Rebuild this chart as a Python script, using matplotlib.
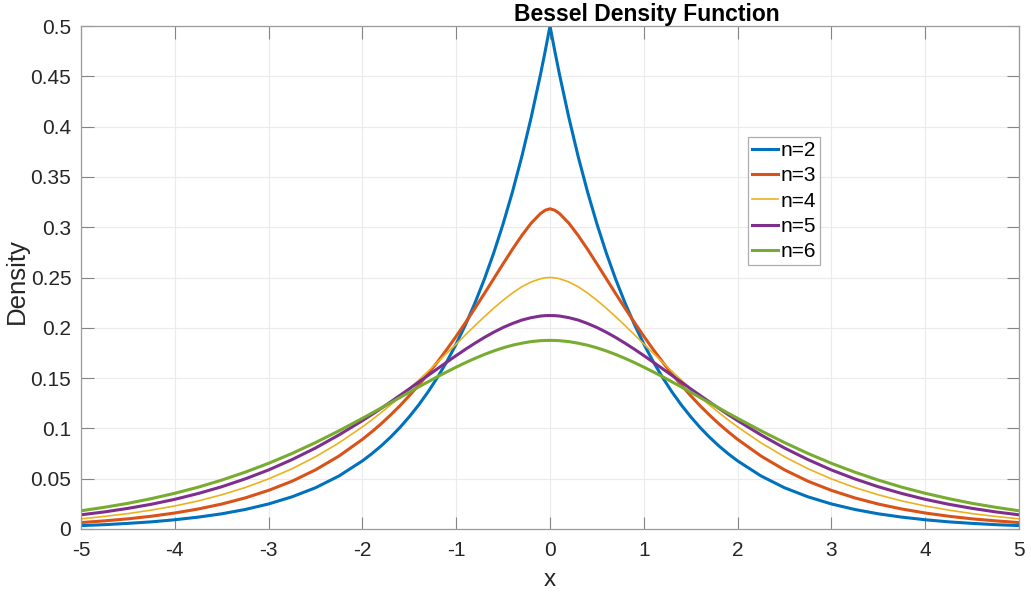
import matplotlib.pyplot as plt
import numpy as np

plt.rcParams['font.family'] = ['Liberation Sans', 'DejaVu Sans']

# sample points (right half, x >= 0); curves are even so the left half reuses them
x_half = [0, 0.05, 0.1, 0.2, 0.3, 0.4, 0.5, 0.6, 0.7, 0.8, 0.9, 1.0,
          1.1, 1.2, 1.3, 1.4, 1.5, 1.6, 1.7, 1.8, 1.9, 2.0,
          2.25, 2.5, 2.75, 3, 3.25, 3.5, 3.75, 4, 4.25, 4.5, 4.75, 5]

dens_n2 = [0.5, 0.4756, 0.4524, 0.4094, 0.3704, 0.3352, 0.3033, 0.2744, 0.2483,
           0.2247, 0.2033, 0.1839, 0.1664, 0.1506, 0.1363, 0.1233, 0.1116,
           0.1009, 0.0913, 0.0826, 0.0748, 0.0677,
           0.0527, 0.0410, 0.0320, 0.0249, 0.0194, 0.0151, 0.0118,
           0.0092, 0.0071, 0.0056, 0.0043, 0.0034]
dens_n3 = [0.3183, 0.3169, 0.3137, 0.3041, 0.2918, 0.2781, 0.2636, 0.2488, 0.2340,
           0.2195, 0.2053, 0.1916, 0.1785, 0.1660, 0.1541, 0.1430, 0.1325,
           0.1225, 0.1133, 0.1046, 0.0966, 0.0891,
           0.0725, 0.0588, 0.0475, 0.0384, 0.0309, 0.0248, 0.0199,
           0.0159, 0.0127, 0.0101, 0.0081, 0.0064]
dens_n4 = [0.25, 0.2497, 0.2488, 0.2456, 0.2408, 0.2346, 0.2274, 0.2195, 0.2110,
           0.2022, 0.1931, 0.1839, 0.1748, 0.1657, 0.1567, 0.1480, 0.1395,
           0.1312, 0.1233, 0.1157, 0.1084, 0.1015,
           0.0856, 0.0718, 0.0599, 0.0498, 0.0412, 0.0340, 0.0279,
           0.0229, 0.0188, 0.0153, 0.0125, 0.0101]
dens_n5 = [0.2122, 0.2121, 0.2117, 0.2101, 0.2077, 0.2043, 0.2003, 0.1956, 0.1904,
           0.1847, 0.1787, 0.1724, 0.1659, 0.1593, 0.1527, 0.1460, 0.1393,
           0.1328, 0.1263, 0.1199, 0.1137, 0.1077,
           0.0935, 0.0805, 0.0690, 0.0587, 0.0498, 0.0420, 0.0353,
           0.0295, 0.0246, 0.0205, 0.0170, 0.0141]
dens_n6 = [0.1875, 0.1874, 0.1872, 0.1863, 0.1847, 0.1827, 0.1801, 0.1770, 0.1735,
           0.1696, 0.1654, 0.1609, 0.1562, 0.1514, 0.1463, 0.1412, 0.1360,
           0.1307, 0.1255, 0.1203, 0.1151, 0.1100,
           0.0976, 0.0859, 0.0751, 0.0653, 0.0565, 0.0486, 0.0416,
           0.0355, 0.0302, 0.0255, 0.0216, 0.0181]

labels = ['n=2', 'n=3', 'n=4', 'n=5', 'n=6']
colors = ['#0072BD', '#D95319', '#EDB120', '#7E2F8E', '#77AC30']
widths = [2.2, 2.2, 1.2, 2.2, 2.2]


def full_curve(vals):
    xs = np.array(x_half)
    ys = np.array(vals)
    return np.concatenate([-xs[:0:-1], xs]), np.concatenate([ys[:0:-1], ys])


fig = plt.figure(figsize=(10.31, 5.94), dpi=100)
ax = fig.add_axes([81 / 1031, 1 - 529 / 594, 938 / 1031, 503 / 594])

for vals, lab, c, lw in zip([dens_n2, dens_n3, dens_n4, dens_n5, dens_n6],
                            labels, colors, widths):
    xx, yy = full_curve(vals)
    ax.plot(xx, yy, color=c, lw=lw, label=lab, solid_joinstyle='round')

ax.set_xlim(-5, 5)
ax.set_ylim(0, 0.5)
ax.set_xticks(np.arange(-5, 6, 1))
ax.set_yticks(np.arange(0, 0.51, 0.05))
ax.set_xticklabels([str(v) for v in range(-5, 6)])
ax.set_yticklabels(['0', '0.05', '0.1', '0.15', '0.2', '0.25', '0.3', '0.35',
                    '0.4', '0.45', '0.5'])
ax.grid(True, color='#ebebeb', lw=0.8)
ax.set_axisbelow(True)
ax.tick_params(direction='in', length=9, width=0.8, color='#858585',
               labelsize=15, labelcolor='#262626', top=True, right=True)
ax.tick_params(axis='x', pad=9)
ax.tick_params(axis='y', pad=7)
for s in ax.spines.values():
    s.set_color('#9a9a9a')
    s.set_linewidth(0.9)

ax.set_xlabel('x', fontsize=17.5, color='#262626')
ax.set_ylabel('Density', fontsize=18.5, color='#262626')
ax.xaxis.set_label_coords(0.5, -0.08)
ax.yaxis.set_label_coords(-0.056, 0.492)
ax.text(0.603, 1.0, 'Bessel Density Function', transform=ax.transAxes,
        ha='center', va='bottom', fontsize=16.5, fontweight='bold')

leg = ax.legend(loc='upper left', bbox_to_anchor=(667 / 938, 1 - 111 / 503),
                fontsize=15, frameon=True, fancybox=False, handlelength=1.25,
                handletextpad=0.1, borderpad=0.2, labelspacing=0.3,
                borderaxespad=0)
leg.get_frame().set_edgecolor('#9a9a9a')
leg.get_frame().set_linewidth(0.9)

fig.savefig('out.png', dpi=100)
